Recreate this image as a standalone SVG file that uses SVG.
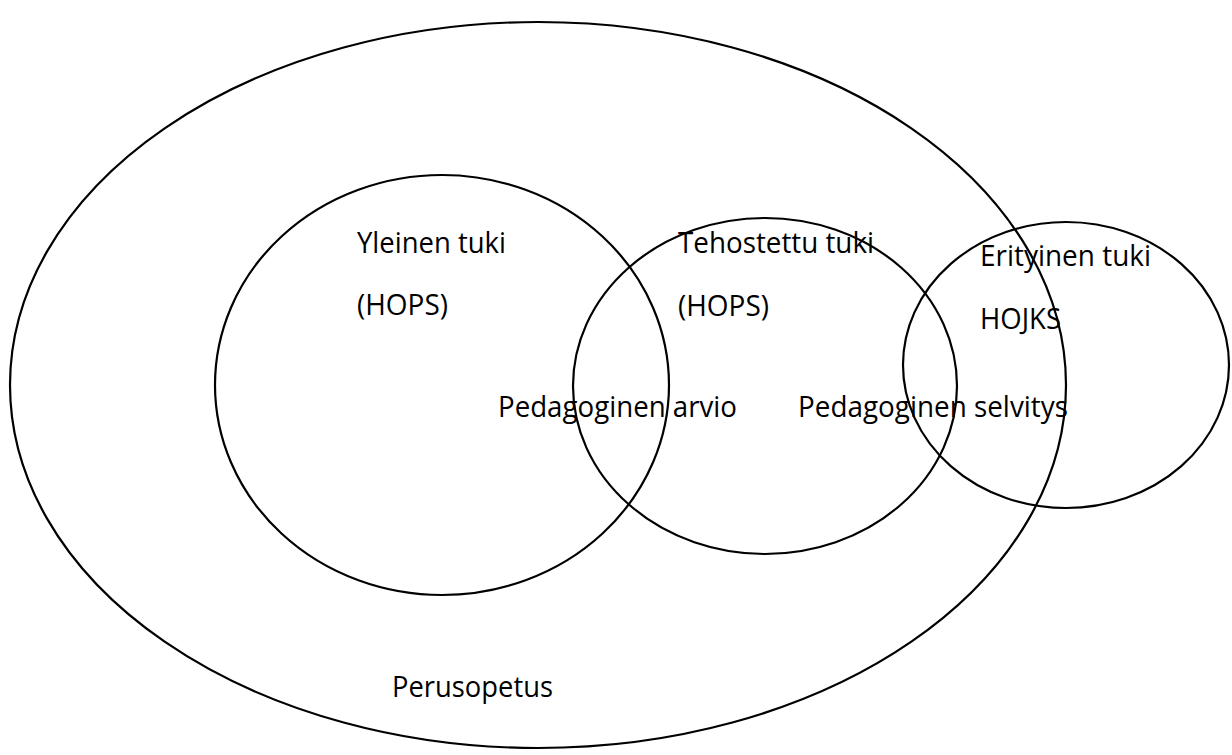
<svg xmlns="http://www.w3.org/2000/svg" width="1232" height="755" viewBox="0 0 1232 755">
<style>
.shape{fill:none;stroke:#000;stroke-width:2.2}
.t{font-family:"Open Sans","Liberation Sans",sans-serif;font-size:29px;fill:#000}
</style>
<rect width="1232" height="755" fill="#fff"/>
<g id="perusopetus">
<ellipse class="shape" cx="538" cy="385" rx="528" ry="363"/>
<text class="t" x="392" y="697" textLength="161" lengthAdjust="spacingAndGlyphs">Perusopetus</text>
</g>
<g id="yleinen">
<ellipse class="shape" cx="442" cy="385" rx="227" ry="210"/>
<text class="t" x="357" y="253" textLength="149" lengthAdjust="spacingAndGlyphs">Yleinen tuki</text>
<text class="t" x="357" y="315" textLength="91" lengthAdjust="spacingAndGlyphs">(HOPS)</text>
</g>
<g id="tehostettu">
<ellipse class="shape" cx="765" cy="386" rx="192" ry="168"/>
<text class="t" x="678" y="253" textLength="196" lengthAdjust="spacingAndGlyphs">Tehostettu tuki</text>
<text class="t" x="678" y="316" textLength="91" lengthAdjust="spacingAndGlyphs">(HOPS)</text>
</g>
<g id="erityinen">
<ellipse class="shape" cx="1066" cy="365" rx="163" ry="143"/>
<text class="t" x="980" y="266" textLength="171" lengthAdjust="spacingAndGlyphs">Erityinen tuki</text>
<text class="t" x="980" y="329" textLength="81" lengthAdjust="spacingAndGlyphs">HOJKS</text>
</g>
<g id="labels">
<text class="t" x="498" y="417" textLength="239" lengthAdjust="spacingAndGlyphs">Pedagoginen arvio</text>
<text class="t" x="798" y="417" textLength="270" lengthAdjust="spacingAndGlyphs">Pedagoginen selvitys</text>
</g>
</svg>
